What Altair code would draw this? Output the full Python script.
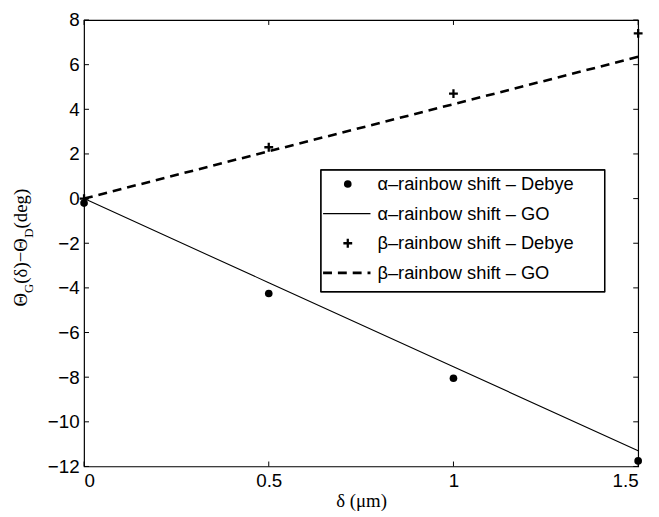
import altair as alt
import pandas as pd

# ---- data ----
x_vals = [0.0, 0.5, 1.0, 1.5]
alpha_debye = [-0.2, -4.25, -8.05, -11.75]
alpha_go = [0.0, -3.77, -7.53, -11.3]
beta_debye = [0.0, 2.3, 4.7, 7.4]
beta_go = [0.0, 2.12, 4.23, 6.35]

x_ticks = [0, 0.5, 1, 1.5]
y_ticks = [-12, -10, -8, -6, -4, -2, 0, 2, 4, 6, 8]

legend_labels = [
    "α–rainbow shift – Debye",
    "α–rainbow shift – GO",
    "β–rainbow shift – Debye",
    "β–rainbow shift – GO",
]

W, H = 561, 452
PLUS = "M-1,0H1M0,-1V1"
SANS = "Liberation Sans"
SERIF = "Liberation Serif"

df = pd.DataFrame({
    "x": x_vals,
    "alpha_debye": alpha_debye,
    "alpha_go": alpha_go,
    "beta_debye": beta_debye,
    "beta_go": beta_go,
})

xs = alt.Scale(domain=[0, 1.5], nice=False, zero=False)
ys = alt.Scale(domain=[-12, 8], nice=False, zero=False)

X = alt.X("x:Q", scale=xs, axis=alt.Axis(values=x_ticks, format="~g", title="δ (μm)",
                                         titleFont=SERIF, titleFontSize=19, titleFontWeight="normal",
                                         titleBaseline="alphabetic", titleY=41, labelPadding=5))
base = alt.Chart(df)

a_line = base.mark_line(color="black", strokeWidth=1.1).encode(
    x=X,
    y=alt.Y("alpha_go:Q", scale=ys, axis=alt.Axis(values=y_ticks, format="~g", title=None, labelPadding=5)),
)
b_line = base.mark_line(color="black", strokeWidth=2.6, strokeDash=[9, 6]).encode(
    x="x:Q", y="beta_go:Q")
a_pts = base.mark_point(shape="circle", filled=True, color="black", size=60, opacity=1).encode(
    x="x:Q", y="alpha_debye:Q")
b_pts = base.mark_point(shape=PLUS, filled=False, color="black", strokeWidth=2.3, size=80, opacity=1).encode(
    x="x:Q", y="beta_debye:Q")

# inward tick marks on all four sides
yt = alt.Chart(pd.DataFrame({"v": y_ticks}))
xt = alt.Chart(pd.DataFrame({"v": x_ticks}))
tick_style = dict(color="black", strokeWidth=1)
t_left = yt.mark_rule(**tick_style).encode(y="v:Q", x=alt.value(0), x2=alt.value(5))
t_right = yt.mark_rule(**tick_style).encode(y="v:Q", x=alt.value(W - 5), x2=alt.value(W))
t_bot = xt.mark_rule(**tick_style).encode(x="v:Q", y=alt.value(H - 5), y2=alt.value(H))
t_top = xt.mark_rule(**tick_style).encode(x="v:Q", y=alt.value(0), y2=alt.value(5))

# legend drawn by hand
LX0, LX1, LY0, LY1 = 240, 527, 152, 275
row_y = [166, 196, 226, 256]
sym_x = 267
leg = [alt.Chart(df).mark_rect(fill="white", stroke="black", strokeWidth=1.2).encode(
    x=alt.value(LX0), x2=alt.value(LX1), y=alt.value(LY0), y2=alt.value(LY1))]
one = alt.Chart(pd.DataFrame({"k": [0]}))
leg.append(one.mark_point(shape="circle", filled=True, color="black", size=60, opacity=1).encode(
    x=alt.value(sym_x), y=alt.value(row_y[0])))
leg.append(one.mark_rule(color="black", strokeWidth=1.1).encode(
    x=alt.value(242), x2=alt.value(290), y=alt.value(row_y[1])))
leg.append(one.mark_point(shape=PLUS, filled=False, color="black", strokeWidth=2.3, size=80, opacity=1).encode(
    x=alt.value(sym_x), y=alt.value(row_y[2])))
leg.append(one.mark_rule(color="black", strokeWidth=2.6, strokeDash=[9, 6]).encode(
    x=alt.value(242), x2=alt.value(290), y=alt.value(row_y[3])))
for lab, ry in zip(legend_labels, row_y):
    leg.append(alt.Chart(pd.DataFrame({"t": [lab]})).mark_text(
        align="left", baseline="middle", font=SANS, fontSize=18.5, color="black").encode(
        text="t:N", x=alt.value(297), y=alt.value(ry)))

# y-axis title with subscripts, rotated
pieces = [("Θ", 19, 0, 13.7), ("G", 13, 6, 9.4), ("(δ)−Θ", 19, 0, 46.5), ("D", 13, 6, 9.4), (" (deg)", 19, 0, 45)]
ttl = []
ypos = 290
for txt, fs, dx, w in pieces:
    ttl.append(alt.Chart(pd.DataFrame({"t": [txt]})).mark_text(
        align="left", baseline="alphabetic", angle=270, font=SERIF, fontSize=fs, color="black").encode(
        text="t:N", x=alt.value(-58 + dx), y=alt.value(ypos)))
    ypos -= w

chart = alt.layer(a_line, b_line, a_pts, b_pts, t_left, t_right, t_bot, t_top, *leg, *ttl).properties(
    width=W, height=H,
    autosize=alt.AutoSizeParams(type="none"),
    padding={"left": 77, "top": 9, "right": 13, "bottom": 48},
    background="white",
).configure_view(stroke="black", strokeWidth=1.2).configure_axis(
    domain=False, ticks=False, grid=False, labelFont=SANS, labelFontSize=19, labelColor="black",
    titleColor="black",
)

chart.save("out.html", embed_options={"renderer": "svg", "actions": False})
